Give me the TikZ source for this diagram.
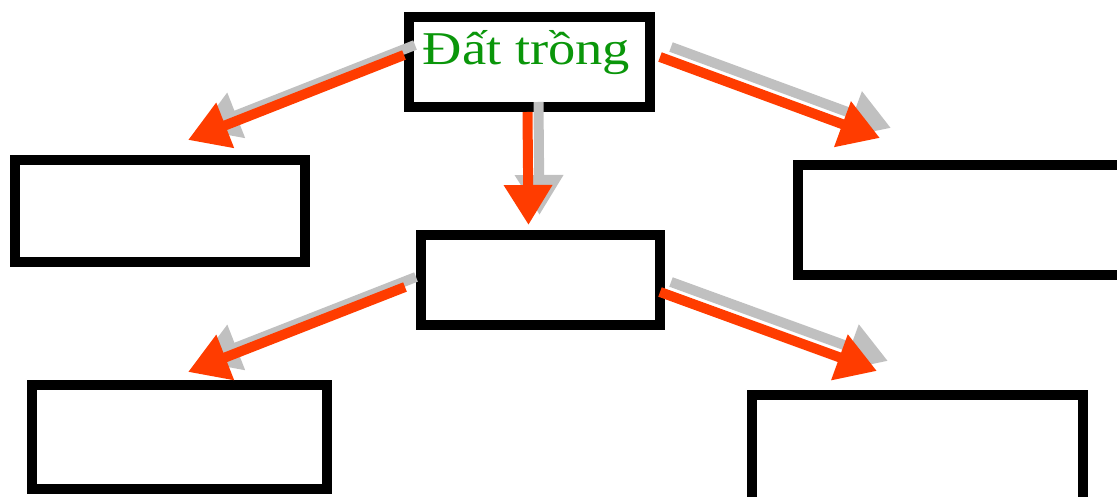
\documentclass[tikz,border=0pt]{standalone}
\usepackage{fontspec}
\newfontfamily\labelfont[FakeStretch=1.16]{Liberation Serif}
\usetikzlibrary{arrows.meta}
\definecolor{arrowred}{RGB}{255,60,0}
\definecolor{shadowgray}{RGB}{192,192,192}
\definecolor{labelgreen}{RGB}{10,150,10}

\begin{document}
\begin{tikzpicture}[x=1pt,y=1pt,
    box/.style={draw=black, line width=10pt, inner sep=0pt, fill=white},
    redarrow/.style={color=arrowred, line width=10pt, -{Triangle[length=40pt,width=46pt]}},
    grayarrow/.style={redarrow, color=shadowgray, transform canvas={shift={(11pt,10pt)}}}]
    \useasboundingbox (0,0) rectangle (1117,497);
    \clip (0,0) rectangle (1117,497);

    % Boxes
    \node[box, minimum width=241pt, minimum height=90pt] (soil) at (529.5,435) {};
    \node[box, minimum width=290pt, minimum height=102pt] (left) at (160,286) {};
    \node[box, minimum width=239pt, minimum height=90pt] (mid) at (540.5,217) {};
    \node[box, minimum width=340pt, minimum height=110pt] (right) at (968,277) {};
    \node[box, minimum width=295pt, minimum height=104pt] (lowleft) at (179.5,60) {};
    \node[box, minimum width=331pt, minimum height=115pt] (lowright) at (917.5,44.5) {};

    \node[anchor=base, text=labelgreen, font=\labelfont\fontsize{47}{50}\selectfont]
        (soiltext) at ([shift={(-3pt,-3pt)}]soil.center) {Đất trồng};

    % Shadows
    \draw[grayarrow] ([yshift=7pt]soil.west) -- ([shift={(28pt,15pt)}]left.north);
    \draw[grayarrow] ([shift={(5pt,5pt)}]soil.east) -- ([shift={(-88pt,22pt)}]right.north);
    \draw[grayarrow] ([xshift=-2pt]soil.south) -- ([shift={(-12pt,5pt)}]mid.north);
    \draw[grayarrow] ([shift={(-11pt,-7pt)}]mid.west) -- ([shift={(8.5pt,8pt)}]lowleft.north);
    \draw[grayarrow] ([shift={(-5pt,-12pt)}]mid.east) -- ([shift={(-40.5pt,19pt)}]lowright.north);

    % Arrows
    \draw[redarrow] ([yshift=7pt]soil.west) -- ([shift={(28pt,15pt)}]left.north);
    \draw[redarrow] ([shift={(5pt,5pt)}]soil.east) -- ([shift={(-88pt,22pt)}]right.north);
    \draw[redarrow] ([xshift=-2pt]soil.south) -- ([shift={(-12pt,5pt)}]mid.north);
    \draw[redarrow] ([shift={(-11pt,-7pt)}]mid.west) -- ([shift={(8.5pt,8pt)}]lowleft.north);
    \draw[redarrow] ([shift={(-5pt,-12pt)}]mid.east) -- ([shift={(-40.5pt,19pt)}]lowright.north);
\end{tikzpicture}
\end{document}
